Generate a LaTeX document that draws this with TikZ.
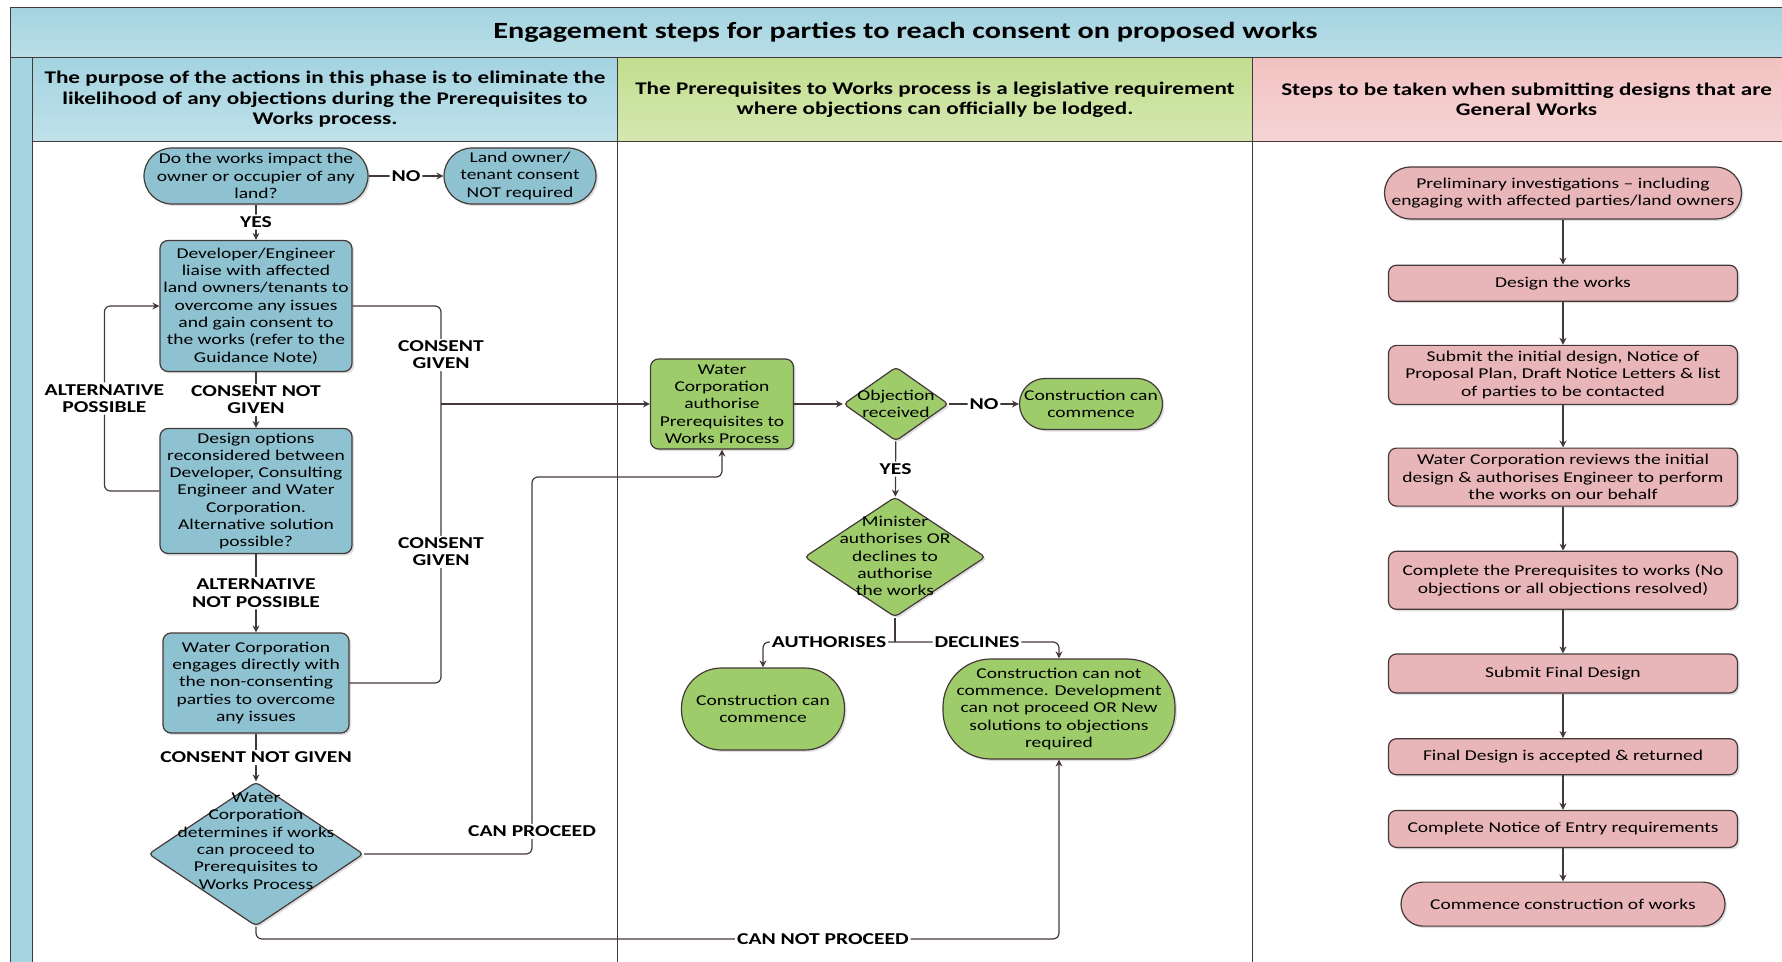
\documentclass[tikz,border=0pt]{standalone}
\usepackage{fontspec}
\setmainfont{Carlito}[FakeStretch=1.3]
\usepackage{tikz}
\usetikzlibrary{arrows.meta, positioning, shapes.geometric, shadows}

\definecolor{nodeblue}{rgb}{0.56,0.76,0.82}
\definecolor{nodegreen}{rgb}{0.62,0.80,0.42}
\definecolor{nodepink}{rgb}{0.91,0.71,0.72}
\definecolor{headblue}{rgb}{0.64,0.83,0.88}
\definecolor{headgreen}{rgb}{0.76,0.87,0.56}
\definecolor{headpink}{rgb}{0.95,0.76,0.76}
\definecolor{linebrown}{rgb}{0.27,0.22,0.22}

\newcommand{\bodyfont}{\fontsize{7.5}{8.65}\selectfont}
\newcommand{\lblfont}{\fontsize{8.3}{8.6}\selectfont\bfseries}
\newcommand{\headfont}{\fontsize{8.9}{10.2}\selectfont\bfseries}
\newcommand{\titlefont}{\fontsize{11.6}{14}\selectfont\bfseries}

\tikzset{
  shapebox/.style = {draw=linebrown, line width=0.6pt, align=center, inner sep=1pt, font=\bodyfont,
    drop shadow={shadow xshift=1pt, shadow yshift=-1pt, opacity=0.25}},
  bluebox/.style = {shapebox, fill=nodeblue, rounded corners=4pt},
  greenbox/.style = {shapebox, fill=nodegreen, rounded corners=4pt},
  pinkbox/.style = {shapebox, fill=nodepink, rounded corners=4pt, minimum width=174.5pt},
  decision/.style = {shapebox, diamond, inner sep=0pt, rounded corners=2pt},
  dtext/.style = {align=center, font=\bodyfont, inner sep=0pt},
  lbl/.style = {font=\lblfont, align=center, fill=white, inner sep=1pt},
  conn/.style = {draw=linebrown, line width=0.6pt, rounded corners=3pt},
  arr/.style = {conn, -{Stealth[length=3.5pt, width=3.5pt]}},
  headcell/.style = {draw=linebrown, line width=0.5pt, align=center, inner sep=0pt, anchor=north west},
}

\begin{document}
\begin{tikzpicture}[x=0.5pt, y=-0.5pt]
		\useasboundingbox (0,0) rectangle (1782,962);
		
		%----------------------------------------------------------------
		\node(title) [headcell, top color=headblue, bottom color=headblue!75!white, minimum width=895pt, minimum height=25pt, font=\titlefont] at (10,7) {Engagement steps for parties to reach consent on proposed works};
		\node(strip) [headcell, fill=headblue, minimum width=11pt, minimum height=457pt] at (10,57) {};
		
		\node(head1) [headcell, top color=headblue, bottom color=headblue!70!white, minimum width=292.5pt, minimum height=42pt, font=\headfont] at (32,57) {The purpose of the actions in this phase is to eliminate the \\ likelihood of any objections during the Prerequisites to \\ Works process.};
		\node(head2) [headcell, top color=headgreen, bottom color=headgreen!70!white, minimum width=317.5pt, minimum height=42pt, font=\headfont] at (617,57) {The Prerequisites to Works process is a legislative requirement \\ where objections can officially be lodged.};
		\node(head3) [headcell, top color=headpink, bottom color=headpink!70!white, minimum width=274pt, minimum height=42pt, font=\headfont] at (1252,57) {Steps to be taken when submitting designs that are \\ General Works};
		
		\draw [linebrown, line width=0.5pt] (head2.south west) -- ++(0,830);
		\draw [linebrown, line width=0.5pt] (head3.south west) -- ++(0,830);
		
		%----------------------------------------------------------------
		\node(q1) [bluebox, rounded corners=14pt, minimum width=112pt, minimum height=28pt] at (256,176) {Do the works impact the \\ owner or occupier of any \\ land?};
		\node(landnr) [bluebox, rounded corners=14pt, minimum width=76pt, minimum height=28pt] at (520,176) {Land owner/ \\ tenant consent \\ NOT required};
		\node(dev) [bluebox, minimum width=96pt, minimum height=65.5pt] at (256,306) {Developer/Engineer \\ liaise with affected \\ land owners/tenants to \\ overcome any issues \\ and gain consent to \\ the works (refer to the \\ Guidance Note)};
		\node(design) [bluebox, minimum width=96pt, minimum height=62.5pt] at (256,491) {Design options \\ reconsidered between \\ Developer, Consulting \\ Engineer and Water \\ Corporation. \\ Alternative solution \\ possible?};
		\node(wceng) [bluebox, minimum width=93pt, minimum height=50pt] at (256,683) {Water Corporation \\ engages directly with \\ the non-consenting \\ parties to overcome \\ any issues};
		\node(wcdet) [decision, fill=nodeblue, minimum width=107.5pt, minimum height=72pt] at (256,854) {};
		\node(wcdet-t) [dtext] at (256,841) {Water \\ Corporation \\ determines if works \\ can proceed to \\ Prerequisites to \\ Works Process};
		
		%----------------------------------------------------------------
		\node(wcauth) [greenbox, minimum width=71.5pt, minimum height=45pt] at (722,404) {Water \\ Corporation \\ authorise \\ Prerequisites to \\ Works Process};
		\node(objdia) [decision, fill=nodegreen, minimum width=52.5pt, minimum height=37pt] at (896,404) {};
		\node(objdia-t) [dtext] at (896,404) {Objection \\ received};
		\node(ccc1) [greenbox, rounded corners=12.75pt, minimum width=71.5pt, minimum height=25.5pt] at (1091,404) {Construction can \\ commence};
		\node(mindia) [decision, fill=nodegreen, minimum width=90.5pt, minimum height=60pt] at (895,557) {};
		\node(mindia-t) [dtext] at (895,556) {Minister \\ authorises OR \\ declines to \\ authorise \\ the works};
		\node(ccc2) [greenbox, rounded corners=20pt, minimum width=81.5pt, minimum height=41pt] at (763,709) {Construction can \\ commence};
		\node(cannot) [greenbox, rounded corners=24pt, minimum width=116pt, minimum height=50pt] at (1059,709) {Construction can not \\ commence. Development \\ can not proceed OR New \\ solutions to objections \\ required};
		
		%----------------------------------------------------------------
		\node(p1) [pinkbox, rounded corners=13pt, minimum width=178.5pt, minimum height=26pt] at (1563,193) {Preliminary investigations -- including \\ engaging with affected parties/land owners};
		\node(p2) [pinkbox, minimum height=18pt, below=22.5pt of p1] {Design the works};
		\node(p3) [pinkbox, minimum height=29.5pt, below=21.5pt of p2] {Submit the initial design, Notice of \\ Proposal Plan, Draft Notice Letters \& list \\ of parties to be contacted};
		\node(p4) [pinkbox, minimum height=29pt, below=21.25pt of p3] {Water Corporation reviews the initial \\ design \& authorises Engineer to perform \\ the works on our behalf};
		\node(p5) [pinkbox, minimum height=29pt, below=22pt of p4] {Complete the Prerequisites to works (No \\ objections or all objections resolved)};
		\node(p6) [pinkbox, minimum height=19.5pt, below=21.75pt of p5] {Submit Final Design};
		\node(p7) [pinkbox, minimum height=18pt, below=22.25pt of p6] {Final Design is accepted \& returned};
		\node(p8) [pinkbox, minimum height=18.5pt, below=17.25pt of p7] {Complete Notice of Entry requirements};
		\node(p9) [pinkbox, rounded corners=11pt, minimum width=162pt, minimum height=22pt, below=16.75pt of p8] {Commence construction of works};
		
		%----------------------------------------------------------------
		\coordinate (cg) at (441,404);
		\coordinate (cp) at (532,477);
		\coordinate (cnp) at (1059,939);
		\coordinate (split) at (895,642);
		
		\draw [arr] (q1) -- node[lbl] {YES} (dev);
		\draw [arr] (q1) -- node[lbl] {NO} (landnr);
		\draw [arr] (dev) -- node[lbl] {CONSENT NOT \\ GIVEN} (design);
		\draw [arr] (design) -- node[lbl] {ALTERNATIVE \\ NOT POSSIBLE} (wceng);
		\draw [arr] (wceng) -- node[lbl] {CONSENT NOT GIVEN} (wcdet);
		\draw [arr] (design.west) -- ++(-55,0) |- node[lbl, pos=0.25] {ALTERNATIVE \\ POSSIBLE} (dev.west);
		\draw [conn] (dev.east) -| node[lbl, pos=0.75] {CONSENT \\ GIVEN} (cg);
		\draw [conn] (wceng.east) -| node[lbl, pos=0.735] {CONSENT \\ GIVEN} (cg);
		\draw [arr] (cg) -- (wcauth);
		\draw [arr] (wcdet.east) -| node[lbl, pos=0.53] {CAN PROCEED} (cp) -| (wcauth.south);
		\draw [arr] (wcdet.south) |- node[lbl, pos=0.853] {CAN NOT PROCEED} (cnp) -- (cannot.south);
		
		\draw [arr] (wcauth) -- (objdia);
		\draw [arr] (objdia) -- node[lbl] {NO} (ccc1);
		\draw [arr] (objdia) -- node[lbl] {YES} (mindia);
		\draw [conn] (mindia.south) -- (split);
		\draw [arr] (split) -| node[lbl, pos=0.25] {AUTHORISES} (ccc2.north);
		\draw [arr] (split) -| node[lbl, pos=0.25] {DECLINES} (cannot.north);
		
		\foreach \a/\b in {p1/p2, p2/p3, p3/p4, p4/p5, p5/p6, p6/p7, p7/p8, p8/p9}
		\draw [arr] (\a) -- (\b);
		
	\end{tikzpicture}
\end{document}
